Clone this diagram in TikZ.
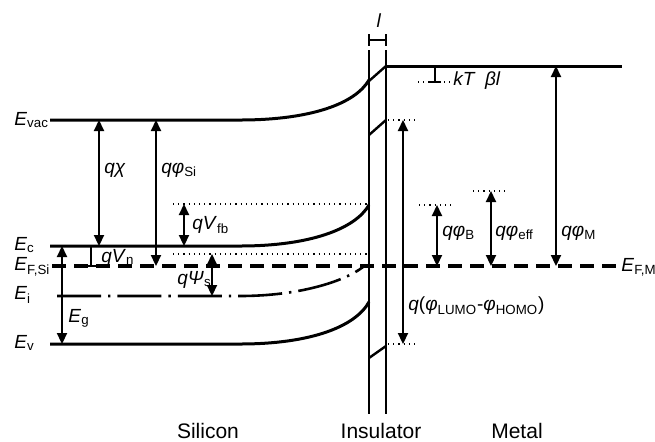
\documentclass[tikz,border=0pt]{standalone}
\usepackage{fontspec}
\setmainfont{Liberation Sans}
\usetikzlibrary{arrows.meta}

\newcommand{\lev}[2]{\textit{#1}\textsubscript{#2}}

\begin{document}
\begin{tikzpicture}[
    x=0.5pt, y=-0.5pt,
    >={Triangle[length=5.5pt, width=5pt]},
    band/.style={line width=1.5pt},
    fermi/.style={line width=1.7pt, dash pattern=on 7pt off 4pt},
    intr/.style={line width=1.3pt, dash pattern=on 22pt off 3.5pt on 1.2pt off 3.5pt},
    wall/.style={line width=0.9pt},
    guide/.style={dotted, line width=0.6pt},
    arr/.style={<->, line width=1.1pt},
    lbl/.style={font=\fontsize{9.5}{11}\selectfont, inner sep=1pt, anchor=west},
    region/.style={font=\fontsize{10.5}{12}\selectfont, inner sep=0pt},
]
\useasboundingbox (0,0) rectangle (655,441);

% ---- Silicon bands ----
\draw[band] (50,120) -- (240,120) .. controls (310,120) and (355,104) .. (369,80);
\draw[band] (50,246) -- (240,246) .. controls (310,246) and (355,229) .. (369,205);
\draw[band] (50,344) -- (240,344) .. controls (310,344) and (355,327) .. (369,302);
\draw[intr] (57,296) -- (240,296) .. controls (300,296) and (345,281) .. (363,267);
\draw[fermi] (52,266) -- (617,266);

% ---- Insulator ----
\draw[wall] (369,50) -- (369,414);
\draw[wall] (386,50) -- (386,414);
\draw[line width=1.2pt] (369,81) -- (386,66);
\draw[line width=1.2pt] (369,135) -- (386,120);
\draw[line width=1.2pt] (369,358) -- (386,346);
\draw[wall] (369,34) -- (369,46);
\draw[wall] (386,34) -- (386,46);
\draw[line width=1.1pt] (369,40) -- (386,40);
\node[lbl, anchor=center] (thick) at (379,21) {\textit{l}};

% ---- Metal ----
\draw[band] (386,66) -- (622,66);
\draw[guide] (418,82) -- (450,82);
\draw[line width=1pt] (435,66) -- (435,82) (429,82) -- (441,82);
\node[lbl] (kt) at (451,81) {\textit{kT}\enspace\textit{βl}};

% ---- Dotted guides ----
\draw[guide] (173,204) -- (369,204);
\draw[guide] (173,254) -- (369,254);
\draw[guide] (388,120) -- (417,120);
\draw[guide] (388,344) -- (417,344);
\draw[guide] (419,205) -- (451,205);
\draw[guide] (473,191) -- (505,191);

% ---- Arrows: silicon side ----
\draw[arr] (99,120) -- (99,246);
\draw[arr] (156,120) -- (156,266);
\draw[arr] (184,204) -- (184,246);
\draw[arr] (212,254) -- (212,296);
\draw[arr] (62,246) -- (62,344);
\draw[line width=1.1pt] (91,246) -- (91,266) (85,266) -- (97,266);

% ---- Arrows: insulator and metal side ----
\draw[arr] (403,120) -- (403,344);
\draw[arr] (437,205) -- (437,266);
\draw[arr] (491,191) -- (491,266);
\draw[arr] (556,66) -- (556,266);

% ---- Level labels ----
\node[lbl] (evac) at (12,120) {\lev{E}{vac}};
\node[lbl] (ec) at (12,245) {\lev{E}{c}};
\node[lbl] (efsi) at (12,267) {\lev{E}{F,Si}};
\node[lbl] (ei) at (12,295) {\lev{E}{i}};
\node[lbl] (ev) at (12,343) {\lev{E}{v}};
\node[lbl] (efm) at (619,267) {\lev{E}{F,M}};

% ---- Gap labels ----
\node[lbl] (chi) at (102,170) {\textit{qχ}};
\node[lbl] (phisi) at (159,170) {\lev{qφ}{Si}};
\node[lbl] (vfb) at (190,225) {\lev{qV}{fb}};
\node[lbl] (vn) at (99,258) {\lev{qV}{n}};
\node[lbl] (psis) at (175,280) {\lev{qΨ}{s}};
\node[lbl] (eg) at (66,318) {\lev{E}{g}};
\node[lbl] (lumo) at (406,306) {\textit{q}(\lev{φ}{LUMO}-\lev{φ}{HOMO})};
\node[lbl] (phib) at (440,233) {\lev{qφ}{B}};
\node[lbl] (phieff) at (493,233) {\lev{qφ}{eff}};
\node[lbl] (phim) at (559,233) {\lev{qφ}{M}};

% ---- Regions ----
\node[region] (si) at (208,431) {Silicon};
\node[region] (ins) at (381,431) {Insulator};
\node[region] (met) at (517,431) {Metal};

\end{tikzpicture}
\end{document}
